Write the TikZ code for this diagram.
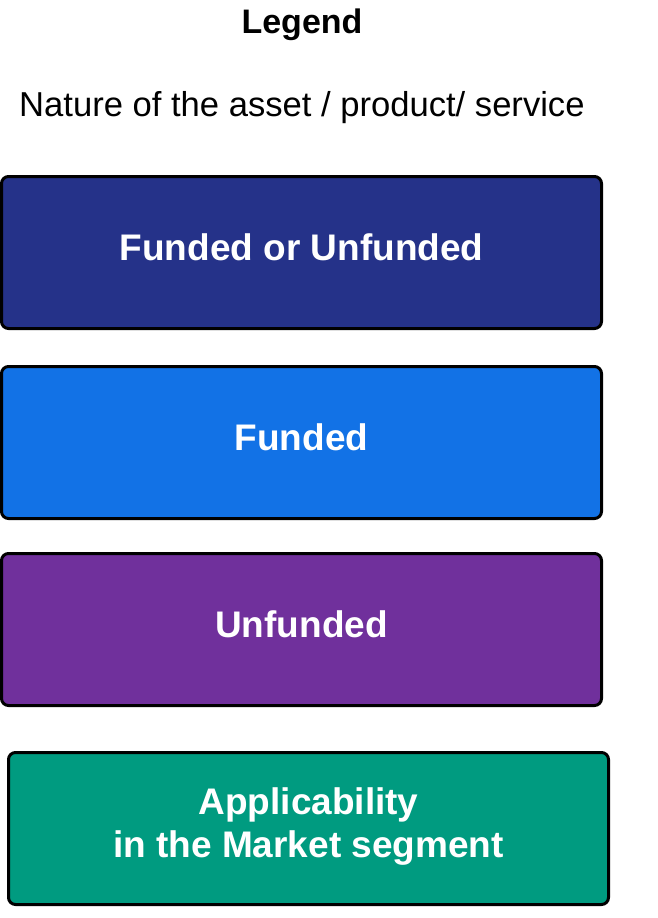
\documentclass[tikz,border=0pt]{standalone}
\usepackage{fontspec}
\setmainfont{Liberation Sans}
\definecolor{cdark}{HTML}{253289}
\definecolor{cblue}{HTML}{1272E6}
\definecolor{cpurple}{HTML}{70309C}
\definecolor{cgreen}{HTML}{009B80}
\begin{document}
\begin{tikzpicture}[x=1pt,y=-1pt,
  legbox/.style={draw=black, line width=3pt, rounded corners=7pt,
    minimum width=600pt, minimum height=152pt, text=white,
    font=\bfseries\fontsize{37}{43}\selectfont, align=center, inner sep=0pt},
  headtxt/.style={font=\fontsize{34.6}{40}\selectfont, inner sep=0pt}]
\useasboundingbox (0,0) rectangle (658,918);
\node[headtxt, font=\bfseries\fontsize{34}{40}\selectfont] (title) at (302,25) {Legend};
\node[headtxt, anchor=west] (nature) at (19,108) {Nature of the asset / product/ service};
\node[legbox, fill=cdark, text depth=10pt] (b1) at (301.5,252.5) {Funded or Unfunded};
\node[legbox, fill=cblue, text depth=10pt] (b2) at (301.5,442.5) {Funded};
\node[legbox, fill=cpurple, text depth=10pt] (b3) at (301.5,629.5) {Unfunded};
\node[legbox, fill=cgreen, text depth=12pt] (b4) at (308.5,828.5) {Applicability\\in the Market segment};
\end{tikzpicture}
\end{document}
